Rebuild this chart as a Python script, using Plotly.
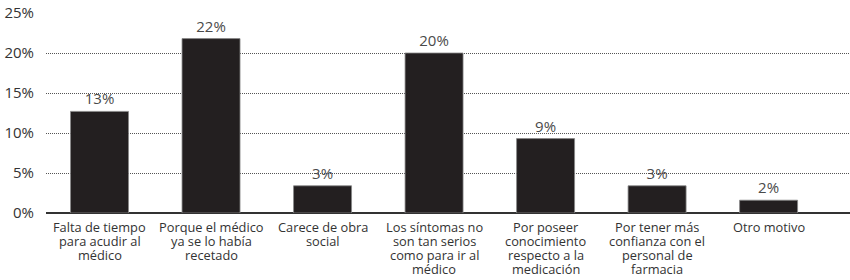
import plotly.graph_objects as go

categories = [
    "Falta de tiempo<br>para acudir al<br>médico",
    "Porque el médico<br>ya se lo había<br>recetado",
    "Carece de obra<br>social",
    "Los síntomas no<br>son tan serios<br>como para ir al<br>médico",
    "Por poseer<br>conocimiento<br>respecto a la<br>medicación",
    "Por tener más<br>confianza con el<br>personal de<br>farmacia",
    "Otro motivo",
]
values = [12.7, 21.8, 3.4, 20.0, 9.3, 3.4, 1.6]
value_labels = ["13%", "22%", "3%", "20%", "9%", "3%", "2%"]
y_tick_values = [0, 5, 10, 15, 20, 25]
y_tick_labels = ["0%", "5%", "10%", "15%", "20%", "25%"]

FONT = "Open Sans, Noto Sans, DejaVu Sans, sans-serif"

fig = go.Figure(
    go.Bar(
        x=list(range(len(categories))),
        y=values,
        width=0.52,
        marker=dict(color="#231f20", line=dict(color="#888888", width=0.8)),
        text=value_labels,
        textposition="outside",
        textfont=dict(family=FONT, size=15, color="#4a4a4a"),
        cliponaxis=False,
    )
)

# category labels as per-line annotations for tight line spacing
annotations = []
for i, cat in enumerate(categories):
    for j, line in enumerate(cat.split("<br>")):
        annotations.append(dict(
            x=i, xref="x", y=0, yref="paper",
            text=line, showarrow=False,
            xanchor="center", yanchor="middle",
            yshift=-14 - 14 * j,
            borderpad=0,
            font=dict(family=FONT, size=12.8, color="#333333"),
        ))

fig.update_layout(
    width=850,
    height=280,
    margin=dict(l=46, r=0, t=13, b=67),
    plot_bgcolor="white",
    paper_bgcolor="white",
    showlegend=False,
    font=dict(family=FONT, color="#333333"),
    annotations=annotations,
)

fig.update_xaxes(
    range=[-0.48, 6.73],
    showticklabels=False,
    showgrid=False,
    showline=False,
    zeroline=False,
    automargin=False,
)

fig.update_yaxes(
    range=[0, 25],
    tickmode="array",
    tickvals=y_tick_values,
    ticktext=y_tick_labels,
    tickfont=dict(family=FONT, size=15, color="#333333"),
    showgrid=True,
    gridcolor="#555555",
    gridwidth=1,
    griddash="1px,1px",
    zeroline=True,
    zerolinecolor="#333333",
    zerolinewidth=2,
    ticks="outside",
    ticklen=8,
    tickcolor="rgba(0,0,0,0)",
    showline=False,
    automargin=False,
)

fig.write_html(
    "out.html",
    config={"displayModeBar": False},
    post_script="document.body.style.margin='0';document.body.style.padding='0';",
)
